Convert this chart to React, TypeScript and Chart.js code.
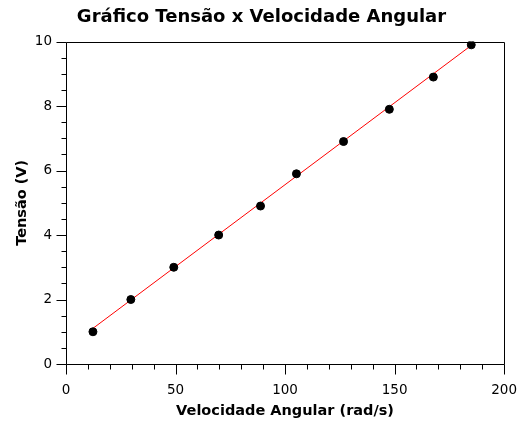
import React, { useEffect, useRef } from 'react';
import { Chart, registerables } from 'chart.js';

Chart.register(...registerables);

// Measured points
const velocidade = [12.3, 29.6, 49.2, 69.7, 88.8, 105.2, 126.7, 147.6, 167.7, 185.0];
const tensao = [1.0, 2.0, 3.0, 4.0, 4.9, 5.9, 6.9, 7.9, 8.9, 9.9];
// Fitted line end points
const fitX = [12.4, 183.6];
const fitY = [1.11, 9.81];

const titleText = 'Gráfico Tensão x Velocidade Angular';
const xTitle = 'Velocidade Angular (rad/s)';
const yTitle = 'Tensão (V)';
const xMajorTicks = [0, 50, 100, 150, 200];
const yMajorTicks = [0, 2, 4, 6, 8, 10];

const FONT = "'DejaVu Sans', sans-serif";

const tickPlugin = {
  id: 'customTicks',
  afterDraw(chart: any) {
    const { ctx, chartArea } = chart;
    const xs = chart.scales.x;
    const ys = chart.scales.y;
    const L = Math.round(chartArea.left) + 0.5;
    const R = Math.round(chartArea.right) + 0.5;
    const T = Math.round(chartArea.top) + 0.5;
    const B = Math.round(chartArea.bottom) + 0.5;
    ctx.save();
    ctx.strokeStyle = '#000';
    ctx.lineWidth = 1;
    ctx.beginPath();
    ctx.moveTo(L, T);
    ctx.lineTo(R, T);
    ctx.lineTo(R, B);
    ctx.moveTo(L, T);
    ctx.lineTo(L, B);
    ctx.lineTo(R, B);
    for (let v = 0; v <= 200; v += 10) {
      const px = Math.round(xs.getPixelForValue(v)) + 0.5;
      const len = xMajorTicks.includes(v) ? 10 : 5;
      ctx.moveTo(px, B);
      ctx.lineTo(px, B + len);
    }
    for (let v = 0; v <= 10; v += 0.5) {
      const py = Math.round(ys.getPixelForValue(v)) + 0.5;
      const len = yMajorTicks.includes(v) ? 10 : 5;
      ctx.moveTo(L, py);
      ctx.lineTo(L - len, py);
    }
    ctx.stroke();
    ctx.restore();
  },
};

export default function App() {
  const ref = useRef<HTMLCanvasElement | null>(null);
  useEffect(() => {
    if (!ref.current) return;
    const chart = new Chart(ref.current, {
      type: 'scatter',
      data: {
        datasets: [
          {
            type: 'line',
            data: fitX.map((x, i) => ({ x, y: fitY[i] })),
            borderColor: '#ff0000',
            borderWidth: 1,
            pointRadius: 0,
            fill: false,
            order: 2,
          } as any,
          {
            data: velocidade.map((x, i) => ({ x, y: tensao[i] })),
            backgroundColor: '#000',
            borderColor: '#000',
            pointRadius: 4,
            borderWidth: 1,
            order: 1,
          },
        ],
      },
      options: {
        animation: false,
        responsive: false,
        devicePixelRatio: 1,
        layout: { padding: { left: 18, right: 20, top: 0, bottom: 0 } },
        plugins: {
          legend: { display: false },
          tooltip: { enabled: false },
          title: {
            display: true,
            text: titleText,
            color: '#000',
            font: { family: FONT, size: 18, weight: 'bold' },
            padding: { top: 7, bottom: 13 },
          },
        },
        scales: {
          x: {
            type: 'linear',
            min: 0,
            max: 200,
            grid: { display: false, drawTicks: true, tickLength: 10 },
            border: { display: false },
            ticks: {
              stepSize: 10,
              autoSkip: false,
              maxRotation: 0,
              color: '#000',
              padding: 8,
              font: { family: FONT, size: 13.5 },
              callback: (v: any) => (xMajorTicks.includes(Number(v)) ? String(v) : ''),
            },
            title: {
              display: true,
              text: xTitle,
              color: '#000',
              font: { family: FONT, size: 14.5, weight: 'bold' },
              padding: { top: 0, bottom: 11 },
            },
            afterFit: (s: any) => {
              s.height = 67;
            },
          },
          y: {
            type: 'linear',
            min: 0,
            max: 10,
            grid: { display: false, drawTicks: true, tickLength: 10 },
            border: { display: false },
            ticks: {
              stepSize: 0.5,
              autoSkip: false,
              color: '#000',
              padding: 4,
              font: { family: FONT, size: 13.5 },
              callback: (v: any) => (yMajorTicks.includes(Number(v)) ? String(v) : ''),
            },
            title: {
              display: true,
              text: yTitle,
              color: '#000',
              font: { family: FONT, size: 14.5, weight: 'bold' },
              padding: { top: -4, bottom: 0 },
            },
            afterFit: (s: any) => {
              s.width = 48;
            },
          },
        },
      },
      plugins: [tickPlugin],
    });
    return () => chart.destroy();
  }, []);
  return (
    <div style={{ position: 'fixed', left: 0, top: 0, width: 525, height: 431, background: '#fff' }}>
      <canvas ref={ref} width={525} height={431} style={{ width: 525, height: 431 }} />
    </div>
  );
}
